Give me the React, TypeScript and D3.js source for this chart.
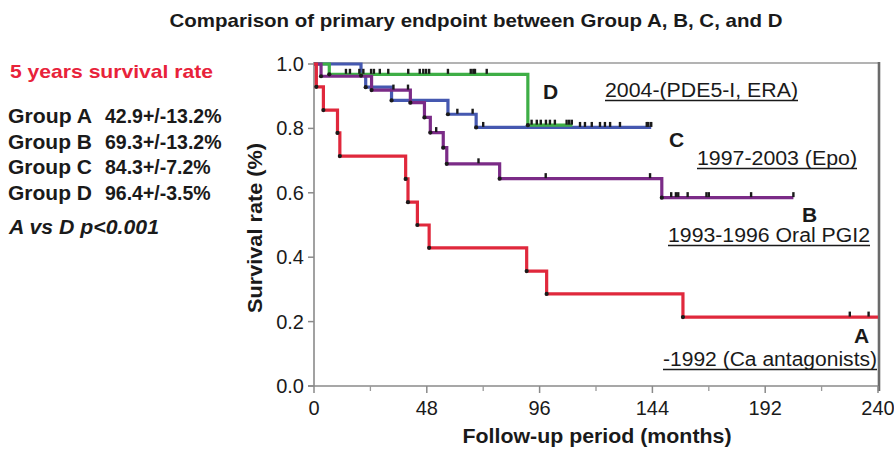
import React from 'react'
import * as d3 from 'd3'

const width = 894
const height = 450
const margin = { top: 64, right: 16, bottom: 64, left: 314 }

// survival curves: event times (months) and survival after each event
const timesA = [1, 4, 10, 11, 39, 40, 44, 49, 90.5, 99, 157]
const survA = [0.929, 0.857, 0.786, 0.714, 0.643, 0.571, 0.5, 0.429, 0.357, 0.286, 0.214]
const censorA = [228, 236]

const timesB = [3, 24.5, 41, 47, 49.5, 55, 56.5, 79, 148]
const survB = [0.962, 0.919, 0.88, 0.834, 0.787, 0.74, 0.69, 0.644, 0.585]
const censorB = [33.8, 40, 52, 70, 98.6, 143, 152, 154, 155, 159, 167, 168, 186, 204]

const timesC = [20, 22, 33, 57, 69]
const survC = [0.964, 0.928, 0.887, 0.844, 0.803]
const censorC = [61, 67.5, 72, 113.2, 115.3, 118.2, 121.7, 123.8, 126, 130.2, 141.6, 142.3, 143.5]

const timesD = [6.5, 91]
const survD = [0.968, 0.81]
const censorD = [13.6, 15.3, 19.3, 21, 24.3, 25.5, 28, 31.6, 40.1, 45, 46.5, 47.7, 49, 57, 66.7, 67.8, 68.5, 73.5,
  92.6, 94.8, 96.5, 98.7, 100.4, 102.5, 107.5, 108.6, 109.7]

const endTimes = { A: 240, B: 204, C: 143.5, D: 110 }

const groupNames = ['Group A', 'Group B', 'Group C', 'Group D']
const groupRates = ['42.9+/-13.2%', '69.3+/-13.2%', '84.3+/-7.2%', '96.4+/-3.5%']

const xTicks = [0, 48, 96, 144, 192, 240]
const xMinor = [24, 72, 120, 168, 216]
const yTicks = [0, 0.2, 0.4, 0.6, 0.8, 1.0]

const x = d3.scaleLinear().domain([0, 240]).range([margin.left, width - margin.right])
const y = d3.scaleLinear().domain([0, 1]).range([height - margin.bottom, margin.top])

const stepLine = d3.line<[number, number]>()
  .x(d => x(d[0]))
  .y(d => y(d[1]))
  .curve(d3.curveStepAfter)

const makeCurve = (times, surv, end) => {
  const pts: [number, number][] = [[0, 1]]
  times.forEach((t, i) => pts.push([t, surv[i]]))
  pts.push([end, surv[surv.length - 1]])
  return pts
}

const survAt = (times, surv, t) => {
  const i = d3.bisectRight(times, t)
  return i === 0 ? 1 : surv[i - 1]
}

const groups = [
  { key: 'C', times: timesC, surv: survC, censor: censorC, color: '#4558b0' },
  { key: 'D', times: timesD, surv: survD, censor: censorD, color: '#3eae46' },
  { key: 'B', times: timesB, surv: survB, censor: censorB, color: '#7b2b87' },
  { key: 'A', times: timesA, surv: survA, censor: censorA, color: '#e0283c' },
]

const font = 'Liberation Sans, Arial, Helvetica, sans-serif'
const ink = '#1a1a1a'

const Note = ({ letter, lx, ly, label, tx, ty, tw }) => (
  <g fill={ink} fontFamily={font}>
    <text x={lx} y={ly} fontSize={21} fontWeight="bold">{letter}</text>
    <text x={tx} y={ty} fontSize={20} textLength={tw} lengthAdjust="spacingAndGlyphs">{label}</text>
    <line x1={tx} x2={tx + tw} y1={ty + 3.5} y2={ty + 3.5} stroke={ink} strokeWidth={1.3} />
  </g>
)

const App = () => {
  const x0 = x(0), x1 = x(240), y0 = y(0), y1 = y(1)
  return (
    <svg width={width} height={height} style={{ position: 'absolute', left: 0, top: 0, background: '#fff' }}
      fontFamily={font}>
      <text x={476} y={27} fontSize={18.5} fontWeight="bold" textAnchor="middle" fill={ink}
        textLength={613} lengthAdjust="spacingAndGlyphs">
        Comparison of primary endpoint between Group A, B, C, and D
      </text>

      {/* left summary */}
      <text x={10} y={78} fontSize={19} fontWeight="bold" fill="#e8223a"
        textLength={203} lengthAdjust="spacingAndGlyphs">5 years survival rate</text>
      {groupNames.map((g, i) => (
        <g key={g} fontSize={19.5} fontWeight="bold" fill={ink}>
          <text x={8} y={123 + i * 25.6} textLength={84} lengthAdjust="spacingAndGlyphs">{g}</text>
          <text x={105} y={123 + i * 25.6}>{groupRates[i]}</text>
        </g>
      ))}
      <text x={9} y={234} fontSize={19.5} fontWeight="bold" fontStyle="italic" fill={ink}
        textLength={150} lengthAdjust="spacingAndGlyphs">A vs D p&lt;0.001</text>

      {/* frame */}
      <line x1={x0} x2={x1} y1={y1 - 1} y2={y1 - 1} stroke="#9a9a9a" strokeWidth={1.6} />
      <line x1={x1 + 1} x2={x1 + 1} y1={y1 - 2} y2={y0 + 5} stroke="#6a6a6a" strokeWidth={2.6} />
      <line x1={x0} x2={x0} y1={y1 - 2} y2={y0} stroke="#8a8a8a" strokeWidth={1.6} />
      <line x1={x0 - 6} x2={x1} y1={y0} y2={y0} stroke="#8a8a8a" strokeWidth={1.6} />

      {yTicks.map(t => (
        <g key={t}>
          <line x1={x0 - 6} x2={x0} y1={y(t)} y2={y(t)} stroke="#8a8a8a" strokeWidth={1.5} />
          <text x={304} y={y(t) + 7} fontSize={20} textAnchor="end" fill={ink}>{d3.format('.1f')(t)}</text>
        </g>
      ))}
      {xTicks.map(t => (
        <g key={t}>
          <line x1={x(t)} x2={x(t)} y1={y0} y2={y0 + 7} stroke="#8a8a8a" strokeWidth={1.5} />
          <text x={x(t)} y={y0 + 29} fontSize={20} textAnchor="middle" fill={ink}>{t}</text>
        </g>
      ))}
      {xMinor.map(t => (
        <line key={t} x1={x(t)} x2={x(t)} y1={y0} y2={y0 + 5} stroke="#9a9a9a" strokeWidth={1.3} />
      ))}

      <text transform={`translate(262, 228) rotate(-90)`} fontSize={20} fontWeight="bold" textAnchor="middle"
        fill={ink} textLength={170} lengthAdjust="spacingAndGlyphs">Survival rate (%)</text>
      <text x={597} y={443} fontSize={20} fontWeight="bold" textAnchor="middle" fill={ink}
        textLength={269} lengthAdjust="spacingAndGlyphs">Follow-up period (months)</text>

      {/* curves */}
      {groups.map(g => (
        <path key={g.key} d={stepLine(makeCurve(g.times, g.surv, endTimes[g.key]))} fill="none"
          stroke={g.color} strokeWidth={3.2} strokeLinejoin="miter" />
      ))}
      {groups.map(g => (
        <g key={g.key + 'm'} fill="#1a1a1a" stroke="#1a1a1a">
          {g.times.map((t, i) => (
            <circle key={i} cx={x(t)} cy={y(g.surv[i])} r={2.1} stroke="none" />
          ))}
          {g.censor.map((t, i) => {
            const yy = y(survAt(g.times, g.surv, t))
            return <line key={i} x1={x(t)} x2={x(t)} y1={yy - 5.5} y2={yy - 0.5} strokeWidth={2.4} />
          })}
        </g>
      ))}

      <Note letter="D" lx={543} ly={99} label="2004-(PDE5-I, ERA)" tx={605} ty={97} tw={193} />
      <Note letter="C" lx={669} ly={147} label="1997-2003 (Epo)" tx={697} ty={165} tw={160} />
      <Note letter="B" lx={802} ly={222} label="1993-1996 Oral PGI2" tx={668} ty={242} tw={202} />
      <Note letter="A" lx={854} ly={343} label="-1992 (Ca antagonists)" tx={663} ty={366} tw={214} />
    </svg>
  )
}

export default App
